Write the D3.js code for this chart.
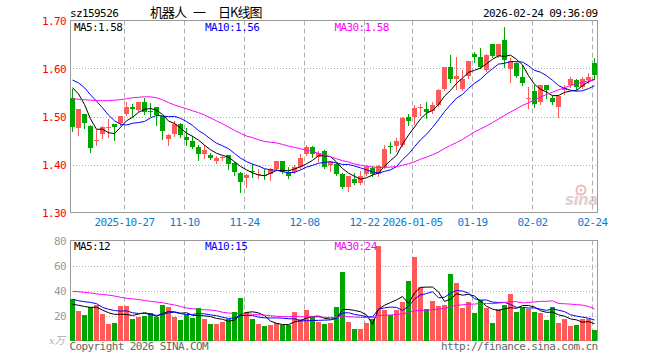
<!DOCTYPE html>
<html>
<head>
<meta charset="utf-8">
<script src="https://cdn.jsdelivr.net/npm/d3@7"></script>
<style>
    body { margin: 0; background: #fff; }
    text { font-family: "DejaVu Sans Mono", monospace; font-size: 11px; letter-spacing: -0.6px; }
</style>
</head>
<body>
<div id="chart"></div>
<script>
// Trading days shown on the chart
const dates = [
    '2025-10-14','2025-10-15','2025-10-16','2025-10-17','2025-10-20','2025-10-21','2025-10-22','2025-10-23','2025-10-24','2025-10-27',
    '2025-10-28','2025-10-29','2025-10-30','2025-10-31',
    '2025-11-03','2025-11-04','2025-11-05','2025-11-06','2025-11-07','2025-11-10','2025-11-11','2025-11-12','2025-11-13','2025-11-14',
    '2025-11-17','2025-11-18','2025-11-19','2025-11-20','2025-11-21','2025-11-24','2025-11-25','2025-11-26','2025-11-27','2025-11-28',
    '2025-12-01','2025-12-02','2025-12-03','2025-12-04','2025-12-05','2025-12-08','2025-12-09','2025-12-10','2025-12-11','2025-12-12',
    '2025-12-15','2025-12-16','2025-12-17','2025-12-18','2025-12-19','2025-12-22','2025-12-23','2025-12-24','2025-12-25','2025-12-26',
    '2025-12-29','2025-12-30','2025-12-31',
    '2026-01-05','2026-01-06','2026-01-07','2026-01-08','2026-01-09','2026-01-12','2026-01-13','2026-01-14','2026-01-15','2026-01-16',
    '2026-01-19','2026-01-20','2026-01-21','2026-01-22','2026-01-23','2026-01-26','2026-01-27','2026-01-28','2026-01-29','2026-01-30',
    '2026-02-02','2026-02-03','2026-02-04','2026-02-05','2026-02-06','2026-02-09','2026-02-10','2026-02-11','2026-02-12','2026-02-13',
    '2026-02-24'
];

const opens = [
    1.538, 1.476, 1.505, 1.480, 1.449, 1.463, 1.476, 1.484, 1.486, 1.505,
    1.519, 1.513, 1.530, 1.511, 1.519, 1.501, 1.453, 1.463, 1.484, 1.457,
    1.449, 1.437, 1.421, 1.419, 1.408, 1.413, 1.419, 1.403, 1.382, 1.372,
    1.386, 1.378, 1.379, 1.380, 1.390, 1.407, 1.385, 1.385, 1.395, 1.421,
    1.437, 1.416, 1.428, 1.399, 1.402, 1.380, 1.353, 1.369, 1.362, 1.381,
    1.393, 1.380, 1.395, 1.438, 1.438, 1.440, 1.498, 1.498, 1.518, 1.515,
    1.511, 1.524, 1.558, 1.603, 1.578, 1.558, 1.584, 1.631, 1.624, 1.596,
    1.651, 1.626, 1.660, 1.598, 1.612, 1.583, 1.537, 1.553, 1.530, 1.565,
    1.538, 1.519, 1.556, 1.566, 1.577, 1.562, 1.576, 1.612
];
const highs = [
    1.558, 1.516, 1.506, 1.482, 1.471, 1.481, 1.494, 1.485, 1.502, 1.530,
    1.526, 1.531, 1.539, 1.528, 1.520, 1.502, 1.463, 1.491, 1.486, 1.475,
    1.460, 1.440, 1.441, 1.424, 1.418, 1.418, 1.420, 1.405, 1.384, 1.380,
    1.402, 1.391, 1.390, 1.392, 1.408, 1.408, 1.394, 1.398, 1.421, 1.440,
    1.438, 1.428, 1.430, 1.407, 1.404, 1.382, 1.377, 1.383, 1.386, 1.398,
    1.396, 1.398, 1.440, 1.447, 1.456, 1.500, 1.505, 1.524, 1.526, 1.530,
    1.530, 1.557, 1.604, 1.628, 1.624, 1.596, 1.616, 1.635, 1.642, 1.630,
    1.652, 1.652, 1.687, 1.622, 1.614, 1.607, 1.562, 1.565, 1.566, 1.566,
    1.545, 1.545, 1.565, 1.583, 1.578, 1.582, 1.591, 1.621
];
const lows = [
    1.469, 1.462, 1.475, 1.426, 1.440, 1.456, 1.457, 1.451, 1.483, 1.503,
    1.501, 1.511, 1.506, 1.501, 1.482, 1.454, 1.440, 1.460, 1.457, 1.440,
    1.434, 1.410, 1.413, 1.412, 1.404, 1.409, 1.390, 1.378, 1.343, 1.353,
    1.374, 1.371, 1.370, 1.367, 1.388, 1.383, 1.371, 1.383, 1.392, 1.419,
    1.416, 1.408, 1.393, 1.386, 1.378, 1.350, 1.345, 1.360, 1.360, 1.378,
    1.376, 1.377, 1.393, 1.423, 1.428, 1.438, 1.482, 1.484, 1.503, 1.496,
    1.508, 1.522, 1.556, 1.572, 1.558, 1.555, 1.580, 1.614, 1.600, 1.594,
    1.624, 1.624, 1.603, 1.572, 1.582, 1.565, 1.517, 1.520, 1.527, 1.538,
    1.526, 1.500, 1.547, 1.562, 1.558, 1.560, 1.569, 1.579
];
const closes = [
    1.478, 1.515, 1.487, 1.435, 1.452, 1.479, 1.478, 1.478, 1.501, 1.519,
    1.515, 1.530, 1.510, 1.509, 1.503, 1.470, 1.461, 1.484, 1.461, 1.451,
    1.437, 1.421, 1.431, 1.414, 1.414, 1.415, 1.402, 1.385, 1.364, 1.378,
    1.384, 1.380, 1.377, 1.390, 1.407, 1.385, 1.376, 1.395, 1.414, 1.437,
    1.421, 1.424, 1.395, 1.406, 1.380, 1.353, 1.376, 1.362, 1.376, 1.395,
    1.381, 1.396, 1.433, 1.436, 1.449, 1.497, 1.491, 1.517, 1.520, 1.510,
    1.524, 1.555, 1.603, 1.579, 1.584, 1.579, 1.615, 1.624, 1.603, 1.628,
    1.626, 1.651, 1.618, 1.616, 1.584, 1.569, 1.539, 1.527, 1.565, 1.555,
    1.530, 1.542, 1.559, 1.579, 1.562, 1.579, 1.583, 1.586
];
// volume, unit: 万手
const volumes = [
    33.4, 23.8, 20.7, 27.0, 28.6, 21.5, 13.3, 14.1, 27.6, 27.6,
    17.5, 18.8, 19.9, 21.8, 18.8, 28.4, 26.8, 18.8, 16.5, 20.4,
    18.3, 26.0, 17.5, 13.3, 13.3, 14.9, 17.5, 23.1, 33.9, 22.8,
    17.5, 13.3, 11.7, 12.5, 13.8, 12.7, 12.7, 22.8, 17.2, 24.4,
    18.6, 14.9, 13.3, 14.4, 26.9, 54.7, 15.0, 9.3, 9.3, 14.2,
    17.0, 76.0, 24.4, 20.4, 24.4, 31.0, 47.5, 66.8, 42.9, 25.2,
    31.6, 27.8, 28.4, 53.0, 46.1, 26.2, 30.8, 21.8, 32.4, 26.0,
    14.3, 25.4, 28.6, 37.1, 23.1, 25.8, 25.2, 22.8, 22.3, 16.5,
    26.8, 14.3, 17.2, 11.7, 12.5, 17.2, 17.2, 8.5
];

// moving-average values before a full window exists
const ma5Head = [1.560, 1.547, 1.525, 1.495];
const ma10Head = [1.576, 1.570, 1.560, 1.545, 1.532, 1.518, 1.503, 1.491, 1.484];
const ma30Head = [
    1.537, 1.536, 1.535, 1.534, 1.533, 1.533, 1.533, 1.534, 1.535, 1.537,
    1.539, 1.540, 1.541, 1.541, 1.539, 1.535, 1.529, 1.524, 1.520, 1.516,
    1.512, 1.508, 1.503, 1.497, 1.491, 1.485, 1.478, 1.471, 1.465
];
const vMa5Head = [29.0, 28.2, 27.2, 26.5];
const vMa10Head = [33.0, 31.8, 31.0, 30.5, 29.5, 26.5, 25.0, 24.0, 23.5];
const vMa30Head = [
    39.3, 39.0, 38.5, 38.0, 37.3, 36.8, 36.3, 35.6, 34.6, 33.8,
    33.3, 32.8, 32.0, 31.3, 30.8, 30.2, 29.3, 28.4, 27.3, 26.0,
    25.4, 24.8, 24.6, 24.4, 23.8, 22.6, 22.0, 21.6, 21.4
];

const tickDates = ['2025-10-27', '2025-11-10', '2025-11-24', '2025-12-08', '2025-12-22', '2026-01-05', '2026-01-19', '2026-02-02', '2026-02-24'];
const tickLabels = ['2025-10-27', '11-10', '11-24', '12-08', '12-22', '2026-01-05', '01-19', '02-02', '02-24'];
const priceTicks = [1.30, 1.40, 1.50, 1.60, 1.70];
const volumeTicks = [20, 40, 60, 80];
const priceMaLabels = ['MA5:1.58', 'MA10:1.56', 'MA30:1.58'];
const volumeMaLabels = ['MA5:12', 'MA10:15', 'MA30:24'];

// ---- layout ----
const width = 660, height = 360;
const left = 70, right = 597.5;
const colors = { up: '#ff5a5a', down: '#00a600', grid: '#b0b0b0', border: '#9a9a9a' };
const maColors = ['#000000', '#0000ff', '#ff00ff'];

const svg = d3.select('#chart').append('svg')
    .attr('width', width)
    .attr('height', height);

const x = d3.scaleBand().domain(dates).range([left, left + 6 * dates.length]);
const yP = d3.scaleLinear().domain([1.30, 1.70]).range([212.5, 20.5]);
const yV = d3.scaleLinear().domain([0, 80]).range([340.5, 240.5]);
const mid = d => x(d) + 2.5;

function movingAvg(vals, n, head) {
    return vals.map((v, i) => i < n - 1 ? head[i] : d3.mean(vals.slice(i - n + 1, i + 1)));
}

const rows = dates.map((d, i) => ({
    date: d, o: opens[i], h: highs[i], l: lows[i], c: closes[i], v: volumes[i]
}));
const isUp = d => d.c >= d.o;

// ---- grid + frames ----
function panel(scale, hTicks, top, bottom) {
    const g = svg.append('g');
    g.selectAll('.hgrid').data(hTicks).enter().append('line')
        .attr('x1', left).attr('x2', right)
        .attr('y1', d => Math.round(scale(d)) + 0.5).attr('y2', d => Math.round(scale(d)) + 0.5)
        .attr('stroke', colors.grid).attr('stroke-dasharray', '1,2');
    g.selectAll('.vgrid').data(tickDates).enter().append('line')
        .attr('x1', d => x(d) + 0.5).attr('x2', d => x(d) + 0.5)
        .attr('y1', top).attr('y2', bottom)
        .attr('stroke', colors.grid).attr('stroke-dasharray', '5,3');
    g.append('rect')
        .attr('x', left + 0.5).attr('y', top)
        .attr('width', right - left - 0.5).attr('height', bottom - top)
        .attr('fill', 'none').attr('stroke', colors.border);
}
panel(yP, [1.40, 1.50, 1.60], yP(1.70), yP(1.30));
panel(yV, [20, 40, 60], yV(80), yV(0));

// ---- axes ----
const pAxis = svg.append('g')
    .attr('transform', `translate(${left},0)`)
    .call(d3.axisLeft(yP).tickValues(priceTicks).tickFormat(d3.format('.2f')).tickSize(0).tickPadding(4));
pAxis.select('.domain').remove();
pAxis.selectAll('text').attr('fill', '#ff0000').style('font-size', '11px').style('font-family', '"DejaVu Sans Mono", monospace');

const vAxis = svg.append('g')
    .attr('transform', `translate(${left},0)`)
    .call(d3.axisLeft(yV).tickValues(volumeTicks).tickSize(0).tickPadding(4));
vAxis.select('.domain').remove();
vAxis.selectAll('text').attr('fill', '#999').style('font-size', '11px').style('font-family', '"DejaVu Sans Mono", monospace');

svg.append('text')
    .attr('x', 49).attr('y', 344)
    .attr('fill', '#aaa')
    .style('font-family', '"DejaVu Serif", "Noto Sans CJK SC", serif')
    .style('font-style', 'italic').style('font-size', '10px').style('letter-spacing', '0')
    .text('x万');

svg.selectAll('.datelabel').data(tickDates).enter().append('text')
    .attr('x', d => x(d) + 0.5).attr('y', 225.5)
    .attr('text-anchor', 'middle')
    .attr('fill', '#0a7cd0')
    .text((d, i) => tickLabels[i]);

// ---- candles ----
const candles = svg.append('g').selectAll('.candle').data(rows).enter().append('g');
candles.append('line')
    .attr('x1', d => mid(d.date)).attr('x2', d => mid(d.date))
    .attr('y1', d => Math.round(yP(d.h))).attr('y2', d => Math.round(yP(d.l)) + 1)
    .attr('stroke', d => isUp(d) ? colors.up : colors.down);
candles.append('rect')
    .attr('x', d => x(d.date))
    .attr('y', d => Math.round(yP(Math.max(d.o, d.c))))
    .attr('width', x.bandwidth() - 1)
    .attr('height', d => Math.max(1, Math.round(yP(Math.min(d.o, d.c))) - Math.round(yP(Math.max(d.o, d.c)))))
    .attr('fill', d => isUp(d) ? colors.up : colors.down)
    .attr('shape-rendering', 'crispEdges');

// ---- volume bars ----
svg.append('g').selectAll('.bar').data(rows).enter().append('rect')
    .attr('x', d => x(d.date))
    .attr('y', d => Math.round(yV(d.v)))
    .attr('width', x.bandwidth() - 1)
    .attr('height', d => Math.round(yV(0)) - Math.round(yV(d.v)))
    .attr('fill', d => isUp(d) ? colors.up : colors.down)
    .attr('shape-rendering', 'crispEdges');

// ---- moving averages ----
const priceMas = [movingAvg(closes, 5, ma5Head), movingAvg(closes, 10, ma10Head), movingAvg(closes, 30, ma30Head)];
const volumeMas = [movingAvg(volumes, 5, vMa5Head), movingAvg(volumes, 10, vMa10Head), movingAvg(volumes, 30, vMa30Head)];

const pLine = d3.line().x((d, i) => mid(dates[i])).y(d => yP(d));
const vLine = d3.line().x((d, i) => mid(dates[i])).y(d => yV(d));

priceMas.forEach((ma, k) => {
    svg.append('path').attr('d', pLine(ma)).attr('fill', 'none')
        .attr('stroke', maColors[k]).attr('stroke-width', 1);
});
volumeMas.forEach((ma, k) => {
    svg.append('path').attr('d', vLine(ma)).attr('fill', 'none')
        .attr('stroke', maColors[k]).attr('stroke-width', 1);
});

// ---- legends ----
const legendX = [74, 205, 334.5];
priceMaLabels.forEach((t, k) => {
    svg.append('text').attr('x', legendX[k]).attr('y', 30.5).attr('fill', maColors[k]).text(t);
});
volumeMaLabels.forEach((t, k) => {
    svg.append('text').attr('x', legendX[k]).attr('y', 249.5).attr('fill', maColors[k]).text(t);
});

// ---- header ----
svg.append('text').attr('x', 70).attr('y', 16.5).attr('fill', '#000').text('sz159526');
const titleFont = '"Noto Sans CJK SC", sans-serif';
svg.append('text').attr('x', 150).attr('y', 17).style('font-family', titleFont)
    .style('font-size', '13px').style('letter-spacing', '-1px').text('机器人');
svg.append('text').attr('x', 193).attr('y', 17).style('font-family', titleFont)
    .style('font-size', '13px').style('letter-spacing', '0').text('一');
svg.append('text').attr('x', 218).attr('y', 17).style('font-family', titleFont)
    .style('font-size', '13px').style('letter-spacing', '-1px').text('日K线图');
svg.append('text').attr('x', 597.5).attr('y', 16.5).attr('text-anchor', 'end').text('2026-02-24 09:36:09');

// ---- footer ----
svg.append('text').attr('x', 69.5).attr('y', 349.5).attr('fill', '#666').text('Copyright 2026 SINA.COM');
svg.append('text').attr('x', 597.5).attr('y', 349.5).attr('text-anchor', 'end').attr('fill', '#666').text('http://finance.sina.com.cn');

// ---- sina watermark ----
const logo = svg.append('g').attr('opacity', 0.55);
logo.append('circle').attr('cx', 581).attr('cy', 190).attr('r', 4.5).attr('fill', 'none').attr('stroke', '#e88080').attr('stroke-width', 2);
logo.append('circle').attr('cx', 581).attr('cy', 190).attr('r', 1.5).attr('fill', '#e88080');
logo.append('text').attr('x', 565).attr('y', 205)
    .attr('fill', '#c8a8a8')
    .style('font-family', '"DejaVu Sans", sans-serif')
    .style('font-style', 'italic').style('font-weight', 'bold')
    .style('font-size', '15px').style('letter-spacing', '-0.5px')
    .text('sina');
</script>
</body>
</html>
